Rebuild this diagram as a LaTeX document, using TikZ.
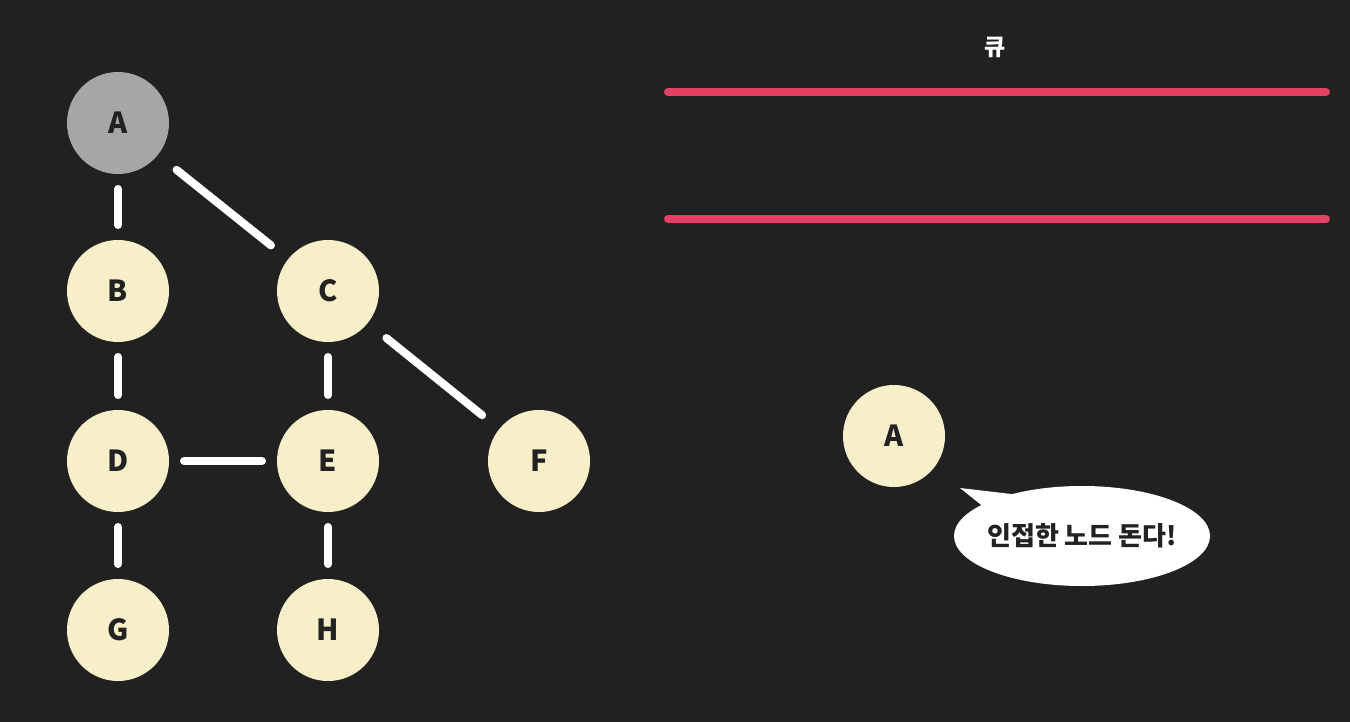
\documentclass[tikz,border=0pt]{standalone}
\usepackage{fontspec}
\setmainfont{Noto Sans CJK KR}
\usetikzlibrary{shapes.geometric}
\definecolor{bg}{HTML}{212121}
\definecolor{cream}{HTML}{F7EFC9}
\definecolor{visited}{HTML}{A6A6A6}
\definecolor{qred}{HTML}{E43F64}
\definecolor{ink}{HTML}{222222}
\tikzset{
  gnode/.style={circle, fill=cream, minimum size=102pt, inner sep=0pt, outer sep=0pt,
    text=ink, font=\fontsize{29}{32}\selectfont\bfseries},
  gvisited/.style={gnode, fill=visited},
  edge/.style={draw=white, line width=8pt, line cap=round, shorten <=15pt, shorten >=15pt},
  dedge/.style={edge, shorten <=24pt, shorten >=22pt},
  qline/.style={draw=qred, line width=8pt, line cap=round},
}
\begin{document}
\begin{tikzpicture}[x=1pt,y=-1pt]
\fill[bg] (0,0) rectangle (1350,722);
\useasboundingbox (0,0) rectangle (1350,722);
% graph
\node[gvisited] (A) at (118,123) {A};
\node[gnode] (B) at (118,291) {B};
\node[gnode] (C) at (328,291) {C};
\node[gnode] (D) at (118,461) {D};
\node[gnode] (E) at (328,461) {E};
\node[gnode] (F) at (539,461) {F};
\node[gnode] (G) at (118,630) {G};
\node[gnode] (H) at (328,630) {H};
\draw[edge] (A) -- (B);
\draw[dedge] (A) -- (C);
\draw[edge] (B) -- (D);
\draw[edge] (C) -- (E);
\draw[dedge] (C) -- (F);
\draw[edge] (D) -- (E);
\draw[edge] (D) -- (G);
\draw[edge] (E) -- (H);
% queue
\node[text=white, font=\fontsize{23}{25}\selectfont\bfseries] (qlabel) at (995,47) {큐};
\coordinate (q1l) at (668,92);
\coordinate (q1r) at (1326,92);
\coordinate (q2l) at (668,219);
\coordinate (q2r) at (1326,219);
\draw[qline] (q1l) -- (q1r);
\draw[qline] (q2l) -- (q2r);
% current node and bubble
\node[gnode] (cur) at (894,436) {A};
\node[ellipse, fill=white, minimum width=256pt, minimum height=100pt, inner sep=0pt] (bubble) at (1082,536) {};
\node[text=ink, font=\fontsize{26}{29}\selectfont\bfseries] (btext) at (bubble.center) {인접한 노드 돈다!};
\coordinate (tip) at (960,488);
\fill[white] (tip) -- (985,508) -- (1020,495) -- cycle;
\end{tikzpicture}
\end{document}
